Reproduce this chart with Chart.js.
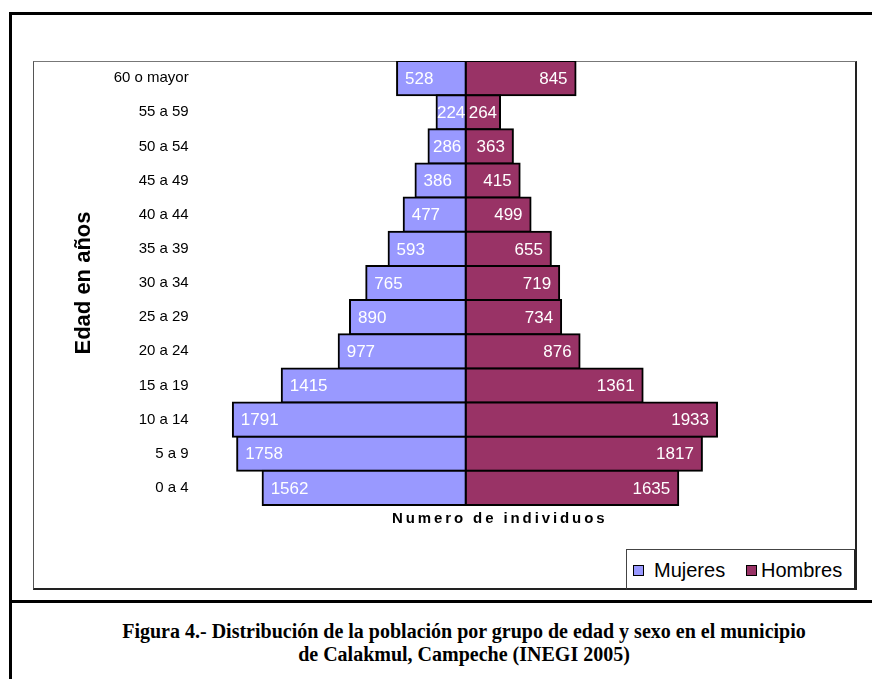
<!DOCTYPE html>
<html lang="es">
<head>
<meta charset="utf-8">
<title>Distribución de la población - Calakmul</title>
<script src="https://cdn.jsdelivr.net/npm/chart.js@4.4.1/dist/chart.umd.min.js"></script>
<style>
    html, body { margin: 0; padding: 0; background: #fff; overflow: hidden; }
    body { width: 872px; height: 679px; position: relative; font-family: "Liberation Sans", Arial, sans-serif; }
    .frame { position: absolute; left: 9px; top: 12px; width: 960px; height: 760px; border: 3px solid #000; box-sizing: border-box; }
    .divider { position: absolute; left: 9px; top: 600px; width: 900px; height: 3px; background: #000; }
    .chart-box { position: absolute; left: 33px; top: 61px; width: 824px; height: 529px; box-sizing: border-box;
        border-top: 1px solid #777; border-left: 1px solid #555; border-right: 2px solid #222; border-bottom: 2px solid #222; }
    #pyramid { position: absolute; left: 33px; top: 61px; }
    .legend { position: absolute; left: 626px; top: 549px; width: 230px; height: 41px; box-sizing: border-box;
        border: 1px solid #444; border-right: 2px solid #222; border-bottom: 2px solid #222; background: #fff;
        font-size: 20px; color: #000; }
    .legend span { position: absolute; top: 8px; line-height: 24px; }
    .legend i { position: absolute; top: 15px; width: 11px; height: 11px; box-sizing: border-box; border: 1.5px solid #000; }
    .caption { position: absolute; left: 10px; width: 908px; top: 620px; text-align: center;
        font-family: "Liberation Serif", "Times New Roman", serif; font-weight: bold; font-size: 20px; line-height: 23px; color: #000; }
</style>
</head>
<body>
<div class="frame"></div>
<div class="divider"></div>
<div class="chart-box"></div>
<canvas id="pyramid" width="824" height="529"></canvas>
<div class="legend">
    <i style="left:6px; background:#9999FF"></i><span style="left:27px">Mujeres</span>
    <i style="left:119px; background:#993366"></i><span style="left:134px">Hombres</span>
</div>
<div class="caption">Figura 4.- Distribución de la población por grupo de edad y sexo en el municipio<br>de Calakmul, Campeche (INEGI 2005)</div>

<script>
// --- DATA ---
const ageGroups = ["60 o mayor", "55 a 59", "50 a 54", "45 a 49", "40 a 44", "35 a 39", "30 a 34",
    "25 a 29", "20 a 24", "15 a 19", "10 a 14", "5 a 9", "0 a 4"];
const mujeres = [528, 224, 286, 386, 477, 593, 765, 890, 977, 1415, 1791, 1758, 1562];
const hombres = [845, 264, 363, 415, 499, 655, 719, 734, 876, 1361, 1933, 1817, 1635];

const MUJERES_COLOR = '#9999FF';
const HOMBRES_COLOR = '#993366';

// --- PLUGINS ---

// White value labels drawn inside the end of each bar
const barValueLabels = {
    id: 'barValueLabels',
    afterDatasetsDraw(chart) {
        const ctx = chart.ctx;
        ctx.save();
        ctx.font = '17px "Liberation Sans", Arial, sans-serif';
        ctx.fillStyle = '#ffffff';
        ctx.textBaseline = 'middle';
        chart.data.datasets.forEach((ds, di) => {
            const meta = chart.getDatasetMeta(di);
            meta.data.forEach((bar, i) => {
                const text = String(Math.abs(ds.data[i]));
                const tw = ctx.measureText(text).width;
                const barW = Math.abs(bar.x - bar.base);
                const pad = Math.max(0, Math.min(8, (barW - tw) / 2));
                if (ds.data[i] < 0) {
                    ctx.textAlign = 'left';
                    ctx.fillText(text, bar.x + pad, bar.y + 1);
                } else {
                    ctx.textAlign = 'right';
                    ctx.fillText(text, bar.x - pad, bar.y + 1);
                }
            });
        });
        ctx.restore();
    }
};

// Spaced-out x axis title under the plot area
const xAxisTitle = {
    id: 'xAxisTitle',
    afterDraw(chart) {
        const { ctx, chartArea } = chart;
        ctx.save();
        ctx.font = 'bold 15px "Liberation Sans", Arial, sans-serif';
        ctx.letterSpacing = '2.9px';
        ctx.fillStyle = '#000';
        ctx.textAlign = 'center';
        ctx.textBaseline = 'middle';
        ctx.fillText('Numero de individuos', (chartArea.left + chartArea.right) / 2 + 1.5, chartArea.bottom + 14);
        ctx.restore();
    }
};

// --- CHART ---
const ctx = document.getElementById('pyramid').getContext('2d');

new Chart(ctx, {
    type: 'bar',
    data: {
        labels: ageGroups,
        datasets: [
            {
                label: 'Mujeres',
                data: mujeres.map(v => -v),
                backgroundColor: MUJERES_COLOR
            },
            {
                label: 'Hombres',
                data: hombres,
                backgroundColor: HOMBRES_COLOR
            }
        ]
    },
    options: {
        indexAxis: 'y',
        responsive: false,
        animation: false,
        devicePixelRatio: 1,
        layout: { padding: { left: 37.3, right: 53.3, top: 0, bottom: 0 } },
        datasets: {
            bar: {
                barPercentage: 1,
                categoryPercentage: 1,
                borderColor: '#000',
                borderWidth: 2,
                borderSkipped: false,
                inflateAmount: 1,
                clip: false
            }
        },
        plugins: {
            legend: { display: false },
            tooltip: { enabled: false }
        },
        scales: {
            x: {
                stacked: true,
                min: -2100,
                max: 2600,
                grid: { display: false },
                border: { display: false },
                ticks: { display: false },
                afterFit: scale => {
                    scale.height = 85;
                    scale.paddingLeft = 0;
                    scale.paddingRight = 0;
                }
            },
            y: {
                stacked: true,
                grid: { display: false, drawTicks: false },
                border: { display: false },
                ticks: {
                    color: '#000',
                    padding: 4,
                    font: { family: '"Liberation Sans", Arial, sans-serif', size: 15 }
                },
                title: {
                    display: true,
                    text: 'Edad en años',
                    color: '#000',
                    padding: 0,
                    font: { family: '"Liberation Sans", Arial, sans-serif', size: 22, weight: 'bold' }
                },
                afterFit: scale => {
                    scale.width = 122.4;
                    scale.paddingTop = 0;
                    scale.paddingBottom = 0;
                }
            }
        }
    },
    plugins: [barValueLabels, xAxisTitle]
});
</script>
</body>
</html>
